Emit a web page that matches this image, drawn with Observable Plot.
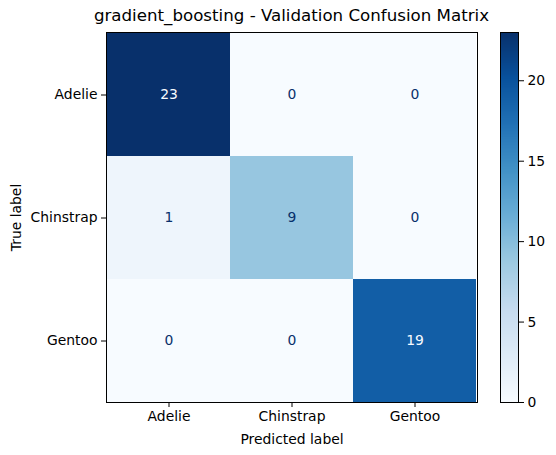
<!DOCTYPE html>
<html>
<head>
<meta charset="utf-8">
<script src="https://cdn.jsdelivr.net/npm/d3@7"></script>
<script src="https://cdn.jsdelivr.net/npm/@observablehq/plot@0.6"></script>
<style>
  body { margin: 0; background: #fff; }
  #wrap { position: relative; width: 556px; height: 455px; font-family: "DejaVu Sans", sans-serif; color: #000; overflow: hidden; }
  #wrap > svg, #wrap > figure { position: absolute; top: 0; margin: 0; }
  #title { position: absolute; left: 0px; width: 583px; top: 6px; text-align: center; font-size: 16.67px; white-space: nowrap; }
</style>
</head>
<body>
<div id="wrap"><div id="title">gradient_boosting - Validation Confusion Matrix</div></div>
<script>
const classes = ["Adelie", "Chinstrap", "Gentoo"];
const counts = [
  [23, 0, 0],
  [1, 9, 0],
  [0, 0, 19]
];
const colorbarTicks = [0, 5, 10, 15, 20];
const bluesStops = ["#f7fbff","#deebf7","#c6dbef","#9ecae1","#6baed6","#4292c6","#2171b5","#08519c","#08306b"];

const vmin = 0, vmax = d3.max(counts.flat());
const cells = [];
counts.forEach((row, i) => row.forEach((v, j) => cells.push({trueLabel: classes[i], predLabel: classes[j], value: v})));

const colorScale = {
  type: "linear",
  domain: bluesStops.map((_, i) => vmin + (vmax - vmin) * i / (bluesStops.length - 1)),
  range: bluesStops,
  interpolate: "rgb"
};
const thresh = (vmin + vmax) / 2;
const font = {fontFamily: "DejaVu Sans, sans-serif", fontSize: "13.9px", color: "#000", background: "transparent", overflow: "visible"};

const main = Plot.plot({
  width: 490, height: 455,
  marginLeft: 106, marginRight: 13, marginTop: 32, marginBottom: 53,
  style: font,
  x: {domain: classes, padding: 0},
  y: {domain: classes, padding: 0},
  color: colorScale,
  marks: [
    Plot.cell(cells, {x: "predLabel", y: "trueLabel", fill: "value", inset: 0, shapeRendering: "crispEdges"}),
    Plot.text(cells, {x: "predLabel", y: "trueLabel", text: d => String(d.value), fill: d => d.value > thresh ? bluesStops[0] : bluesStops[8], fontSize: 13.9}),
    Plot.frame({stroke: "#000", strokeWidth: 1}),
    Plot.axisX({tickSize: 5, tickPadding: 4, fontSize: 13.9, label: "Predicted label", labelAnchor: "center", labelArrow: "none", labelOffset: 41}),
    Plot.axisY({tickSize: 5, tickPadding: 4, fontSize: 13.9, label: "True label", labelAnchor: "center", labelArrow: "none", labelOffset: 95})
  ]
});
main.style.left = "0px";
document.getElementById("wrap").appendChild(main);

const step = (vmax - vmin) / 400;
const bands = d3.range(vmin, vmax, step);
const cbar = Plot.plot({
  width: 76, height: 455,
  marginLeft: 20, marginRight: 38, marginTop: 32, marginBottom: 53,
  style: font,
  y: {domain: [vmin, vmax]},
  color: colorScale,
  marks: [
    Plot.rect(bands, {y1: d => d, y2: d => Math.min(vmax, d + step * 1.8), fill: d => d + step / 2, shapeRendering: "crispEdges"}),
    Plot.frame({stroke: "#000", strokeWidth: 1}),
    Plot.axisY({anchor: "right", ticks: colorbarTicks, tickFormat: d => String(d), tickSize: 5, tickPadding: 4, fontSize: 13.9, label: null})
  ]
});
cbar.style.left = "480px";
document.getElementById("wrap").appendChild(cbar);
</script>
</body>
</html>
